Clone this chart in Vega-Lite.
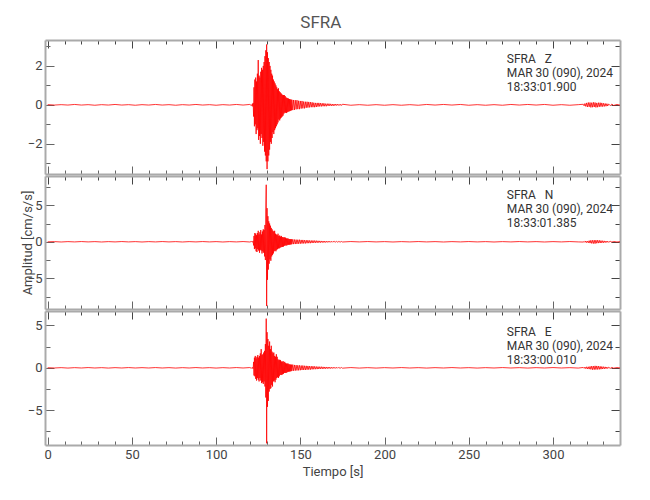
{
  "$schema": "https://vega.github.io/schema/vega-lite/v6.json",
  "padding": {"left": 21, "top": 13, "right": 5, "bottom": 5},
  "background": "white",
  "title": {"text": "SFRA", "fontSize": 17, "fontWeight": "normal", "color": "#555555", "anchor": "middle", "font": "Roboto, sans-serif", "offset": 8},
  "config": {
    "view": {"stroke": null},
    "font": "Roboto, sans-serif",
    "axis": {"domainColor": "#aaaaaa", "domainWidth": 2, "tickColor": "#666666", "tickWidth": 1, "grid": false, "labelColor": "#444444", "labelFontSize": 13, "labelOverlap": false, "labelFont": "Roboto, sans-serif", "titleFont": "Roboto, sans-serif", "titleFontWeight": "normal", "titleColor": "#444444", "titleFontSize": 13},
    "concat": {"spacing": 0}
  },
  "datasets": {
    "labels": [
      {"comp": "Z", "label": "SFRA\u00a0\u00a0\u00a0Z\nMAR 30 (090), 2024\n18:33:01.900"},
      {"comp": "N", "label": "SFRA\u00a0\u00a0\u00a0N\nMAR 30 (090), 2024\n18:33:01.385"},
      {"comp": "E", "label": "SFRA\u00a0\u00a0\u00a0E\nMAR 30 (090), 2024\n18:33:00.010"}
    ],
    "trace": [
      {"t":0,"z":0.01,"n":-0.01,"e":0.01},{"t":4,"z":-0.01,"n":0.02,"e":-0.02},{"t":8,"z":0.01,"n":-0.03,"e":0.02},{"t":12,"z":-0.01,"n":0.02,"e":-0.03},{"t":16,"z":0.02,"n":-0.02,"e":0.02},{"t":20,"z":-0.01,"n":0.03,"e":-0.02},{"t":24,"z":0.01,"n":-0.02,"e":0.03},{"t":28,"z":-0.02,"n":0.02,"e":-0.02},{"t":32,"z":0.01,"n":-0.03,"e":0.02},{"t":36,"z":-0.01,"n":0.02,"e":-0.03},{"t":40,"z":0.02,"n":-0.02,"e":0.02},{"t":44,"z":-0.01,"n":0.03,"e":-0.02},{"t":48,"z":0.01,"n":-0.02,"e":0.03},{"t":52,"z":-0.02,"n":0.02,"e":-0.02},{"t":56,"z":0.01,"n":-0.03,"e":0.02},{"t":60,"z":-0.01,"n":0.02,"e":-0.02},{"t":64,"z":0.02,"n":-0.02,"e":0.03},{"t":68,"z":-0.01,"n":0.03,"e":-0.02},{"t":72,"z":0.01,"n":-0.02,"e":0.02},{"t":76,"z":-0.02,"n":0.02,"e":-0.03},{"t":80,"z":0.01,"n":-0.03,"e":0.02},{"t":84,"z":-0.01,"n":0.02,"e":-0.02},{"t":88,"z":0.02,"n":-0.02,"e":0.03},{"t":92,"z":-0.01,"n":0.03,"e":-0.02},{"t":96,"z":0.01,"n":-0.02,"e":0.02},{"t":100,"z":-0.02,"n":0.02,"e":-0.03},{"t":104,"z":0.01,"n":-0.03,"e":0.02},{"t":108,"z":-0.01,"n":0.02,"e":-0.02},{"t":112,"z":0.02,"n":-0.02,"e":0.03},{"t":116,"z":-0.01,"n":0.03,"e":-0.02},{"t":120,"z":0.02,"n":-0.03,"e":0.03},{"t":121,"z":-0.04,"n":0.04,"e":-0.05},{"t":121.5,"z":0.05,"n":-0.06,"e":0.06},{"t":121.75,"z":-0.08,"n":0.07,"e":-0.08},
      {"t":122,"z":0.1,"n":0.1,"e":-0.1},{"t":122.25,"z":-0.6,"n":-0.5,"e":0.7},{"t":122.5,"z":0.9,"n":0.8,"e":-0.9},{"t":122.75,"z":-1.1,"n":-1.0,"e":1.2},{"t":123,"z":1.3,"n":1.2,"e":-1.0},{"t":123.25,"z":-1.0,"n":-0.9,"e":1.4},{"t":123.5,"z":1.4,"n":1.1,"e":-1.3},{"t":123.75,"z":-1.5,"n":-1.3,"e":1.1},{"t":124,"z":1.2,"n":0.9,"e":-1.5},{"t":124.25,"z":-1.3,"n":-1.4,"e":1.3},{"t":124.5,"z":1.6,"n":1.2,"e":-1.2},{"t":124.75,"z":-1.2,"n":-1.0,"e":1.5},{"t":125,"z":2.3,"n":1.5,"e":-1.4},{"t":125.25,"z":-1.8,"n":-1.2,"e":1.2},{"t":125.5,"z":1.5,"n":1.0,"e":-1.6},{"t":125.75,"z":-1.6,"n":-1.5,"e":1.4},{"t":126,"z":1.4,"n":1.3,"e":-1.2},{"t":126.25,"z":-2.0,"n":-1.1,"e":1.7},{"t":126.5,"z":1.7,"n":1.6,"e":-1.5},{"t":126.75,"z":-1.5,"n":-1.2,"e":2.2},{"t":127,"z":1.9,"n":1.0,"e":-1.8},{"t":127.25,"z":-1.7,"n":-1.6,"e":1.5},{"t":127.5,"z":1.8,"n":1.4,"e":-1.7},{"t":127.75,"z":-2.1,"n":-1.3,"e":1.6},{"t":128,"z":2.0,"n":1.7,"e":-1.9},{"t":128.25,"z":-1.9,"n":-1.5,"e":1.8},{"t":128.5,"z":2.2,"n":1.6,"e":-1.6},{"t":128.75,"z":-2.4,"n":-2.0,"e":2.0},{"t":129,"z":2.5,"n":2.3,"e":-2.2},{"t":129.25,"z":-2.6,"n":-2.5,"e":2.8},{"t":129.5,"z":2.8,"n":4.5,"e":-3.5},{"t":129.75,"z":-2.9,"n":7.8,"e":5.8},{"t":130,"z":3.1,"n":-8.8,"e":-8.9},{"t":130.25,"z":-3.3,"n":4.6,"e":4.2},{"t":130.5,"z":2.7,"n":-5.2,"e":-4.6},{"t":130.75,"z":-2.9,"n":3.5,"e":3.4},{"t":131,"z":2.4,"n":-3.8,"e":-3.9},{"t":131.25,"z":-2.6,"n":2.8,"e":2.6},{"t":131.5,"z":2.2,"n":-3.0,"e":-2.8},{"t":131.75,"z":-2.3,"n":2.5,"e":3.1},{"t":132,"z":2.0,"n":-2.4,"e":-2.5},{"t":132.25,"z":-1.9,"n":2.2,"e":2.2},{"t":132.5,"z":1.8,"n":-2.6,"e":-2.4},{"t":132.75,"z":-2.0,"n":1.9,"e":2.6},{"t":133,"z":1.6,"n":-2.0,"e":-2.0},{"t":133.25,"z":-1.7,"n":1.7,"e":1.9},{"t":133.5,"z":1.5,"n":-1.8,"e":-2.2},{"t":133.75,"z":-1.4,"n":1.5,"e":1.7},{"t":134,"z":1.3,"n":-1.6,"e":-1.6},{"t":134.25,"z":-1.5,"n":1.4,"e":1.8},{"t":134.5,"z":1.2,"n":-1.3,"e":-1.5},{"t":134.75,"z":-1.3,"n":1.5,"e":1.4},{"t":135,"z":1.1,"n":-1.2,"e":-1.7},{"t":135.25,"z":-1.2,"n":1.1,"e":1.3},{"t":135.5,"z":1.0,"n":-1.3,"e":-1.4},{"t":135.75,"z":-1.1,"n":1.0,"e":1.6},{"t":136,"z":0.9,"n":-1.1,"e":-1.2},{"t":136.25,"z":-1.0,"n":0.9,"e":1.3},{"t":136.5,"z":0.8,"n":-1.0,"e":-1.1},{"t":136.75,"z":-0.9,"n":1.1,"e":1.0},{"t":137,"z":0.85,"n":-0.9,"e":-1.2},{"t":137.25,"z":-0.75,"n":0.8,"e":0.9},{"t":137.5,"z":0.7,"n":-0.9,"e":-1.0},{"t":137.75,"z":-0.8,"n":0.85,"e":0.95},{"t":138,"z":0.65,"n":-0.8,"e":-0.85},{"t":138.25,"z":-0.7,"n":0.7,"e":0.9},{"t":138.5,"z":0.6,"n":-0.75,"e":-0.8},{"t":138.75,"z":-0.65,"n":0.8,"e":0.75},{"t":139,"z":0.55,"n":-0.7,"e":-0.85},{"t":139.25,"z":-0.6,"n":0.65,"e":0.7},{"t":139.5,"z":0.5,"n":-0.7,"e":-0.75},{"t":139.75,"z":-0.55,"n":0.6,"e":0.8},{"t":140,"z":0.5,"n":-0.65,"e":-0.7},{"t":140.25,"z":-0.45,"n":0.6,"e":0.65},{"t":140.5,"z":0.5,"n":-0.55,"e":-0.6},{"t":140.75,"z":-0.4,"n":0.6,"e":0.7},{"t":141,"z":0.45,"n":-0.5,"e":-0.6},{"t":141.25,"z":-0.4,"n":0.55,"e":0.55},{"t":141.5,"z":0.38,"n":-0.5,"e":-0.6},{"t":141.75,"z":-0.42,"n":0.45,"e":0.5},{"t":142,"z":0.36,"n":-0.5,"e":-0.55},{"t":142.25,"z":-0.38,"n":0.45,"e":0.5},{"t":142.5,"z":0.34,"n":-0.42,"e":-0.48},{"t":142.75,"z":-0.35,"n":0.44,"e":0.5},{"t":143,"z":0.32,"n":-0.4,"e":-0.45},{"t":143.25,"z":-0.34,"n":0.38,"e":0.42},{"t":143.5,"z":0.3,"n":-0.4,"e":-0.44},{"t":143.75,"z":-0.32,"n":0.36,"e":0.4},{"t":144,"z":0.28,"n":-0.38,"e":-0.42},{"t":144.25,"z":-0.3,"n":0.35,"e":0.38},{"t":144.5,"z":0.27,"n":-0.36,"e":-0.4},{"t":144.75,"z":-0.28,"n":0.34,"e":0.37},{"t":145,"z":0.26,"n":-0.33,"e":-0.36},
      {"t":145.5,"z":-0.27,"n":0.34,"e":0.38},{"t":146,"z":0.25,"n":-0.32,"e":-0.35},{"t":146.5,"z":-0.26,"n":0.3,"e":0.34},{"t":147,"z":0.24,"n":-0.31,"e":-0.33},{"t":147.5,"z":-0.23,"n":0.29,"e":0.32},{"t":148,"z":0.24,"n":-0.3,"e":-0.31},{"t":148.5,"z":-0.22,"n":0.28,"e":0.3},{"t":149,"z":0.21,"n":-0.27,"e":-0.3},{"t":149.5,"z":-0.22,"n":0.28,"e":0.29},{"t":150,"z":0.2,"n":-0.26,"e":-0.28},{"t":150.5,"z":-0.19,"n":0.25,"e":0.27},{"t":151,"z":0.2,"n":-0.24,"e":-0.26},{"t":151.5,"z":-0.18,"n":0.25,"e":0.27},{"t":152,"z":0.17,"n":-0.23,"e":-0.25},{"t":152.5,"z":-0.18,"n":0.22,"e":0.24},{"t":153,"z":0.16,"n":-0.23,"e":-0.25},{"t":153.5,"z":-0.15,"n":0.21,"e":0.23},{"t":154,"z":0.16,"n":-0.2,"e":-0.22},{"t":154.5,"z":-0.14,"n":0.21,"e":0.22},{"t":155,"z":0.15,"n":-0.19,"e":-0.21},{"t":155.5,"z":-0.13,"n":0.18,"e":0.2},{"t":156,"z":0.14,"n":-0.19,"e":-0.21},{"t":156.5,"z":-0.12,"n":0.17,"e":0.19},{"t":157,"z":0.13,"n":-0.16,"e":-0.18},{"t":157.5,"z":-0.12,"n":0.17,"e":0.19},{"t":158,"z":0.11,"n":-0.15,"e":-0.17},{"t":158.5,"z":-0.12,"n":0.16,"e":0.17},{"t":159,"z":0.1,"n":-0.14,"e":-0.16},{"t":159.5,"z":-0.11,"n":0.15,"e":0.15},{"t":160,"z":0.1,"n":-0.13,"e":-0.15},{"t":160.5,"z":-0.09,"n":0.13,"e":0.14},{"t":161,"z":0.1,"n":-0.12,"e":-0.14},{"t":161.5,"z":-0.08,"n":0.12,"e":0.13},{"t":162,"z":0.09,"n":-0.11,"e":-0.12},{"t":162.5,"z":-0.08,"n":0.11,"e":0.13},{"t":163,"z":0.08,"n":-0.1,"e":-0.12},{"t":163.5,"z":-0.07,"n":0.1,"e":0.11},{"t":164,"z":0.08,"n":-0.1,"e":-0.11},{"t":164.5,"z":-0.07,"n":0.09,"e":0.1},{"t":165,"z":0.06,"n":-0.09,"e":-0.1},{"t":165.5,"z":-0.07,"n":0.08,"e":0.1},{"t":166,"z":0.06,"n":-0.08,"e":-0.09},{"t":166.5,"z":-0.05,"n":0.08,"e":0.09},{"t":167,"z":0.06,"n":-0.07,"e":-0.08},{"t":167.5,"z":-0.05,"n":0.07,"e":0.08},{"t":168,"z":0.05,"n":-0.07,"e":-0.08},{"t":168.5,"z":-0.05,"n":0.06,"e":0.07},{"t":169,"z":0.04,"n":-0.06,"e":-0.07},{"t":169.5,"z":-0.05,"n":0.06,"e":0.07},{"t":170,"z":0.04,"n":-0.05,"e":-0.06},{"t":170.5,"z":-0.04,"n":0.06,"e":0.06},{"t":171,"z":0.04,"n":-0.05,"e":-0.06},{"t":171.5,"z":-0.03,"n":0.05,"e":0.05},{"t":172,"z":0.04,"n":-0.05,"e":-0.05},{"t":172.5,"z":-0.03,"n":0.04,"e":0.05},{"t":173,"z":0.03,"n":-0.04,"e":-0.05},{"t":173.5,"z":-0.03,"n":0.04,"e":0.04},{"t":174,"z":0.03,"n":-0.04,"e":-0.04},{"t":174.5,"z":-0.03,"n":0.04,"e":0.04},{"t":175,"z":0.03,"n":-0.03,"e":-0.04},
      {"t":180,"z":-0.02,"n":0.03,"e":0.03},{"t":185,"z":0.01,"n":-0.02,"e":-0.03},{"t":190,"z":-0.02,"n":0.03,"e":0.02},{"t":195,"z":0.01,"n":-0.02,"e":-0.03},{"t":200,"z":-0.02,"n":0.02,"e":0.02},{"t":205,"z":0.01,"n":-0.03,"e":-0.02},{"t":210,"z":-0.02,"n":0.02,"e":0.03},{"t":215,"z":0.01,"n":-0.02,"e":-0.02},{"t":220,"z":-0.02,"n":0.03,"e":0.02},{"t":225,"z":0.02,"n":-0.02,"e":-0.03},{"t":230,"z":-0.01,"n":0.02,"e":0.02},{"t":235,"z":0.02,"n":-0.03,"e":-0.02},{"t":240,"z":-0.01,"n":0.02,"e":0.03},{"t":245,"z":0.02,"n":-0.02,"e":-0.02},{"t":250,"z":-0.02,"n":0.03,"e":0.02},{"t":255,"z":0.01,"n":-0.02,"e":-0.03},{"t":260,"z":-0.02,"n":0.02,"e":0.02},{"t":265,"z":0.01,"n":-0.03,"e":-0.02},{"t":270,"z":-0.02,"n":0.02,"e":0.03},{"t":275,"z":0.02,"n":-0.02,"e":-0.02},{"t":280,"z":-0.01,"n":0.03,"e":0.02},{"t":285,"z":0.02,"n":-0.02,"e":-0.03},{"t":290,"z":-0.01,"n":0.02,"e":0.02},{"t":295,"z":0.02,"n":-0.03,"e":-0.02},{"t":300,"z":-0.02,"n":0.02,"e":0.03},{"t":305,"z":0.01,"n":-0.02,"e":-0.02},{"t":310,"z":-0.02,"n":0.03,"e":0.02},{"t":315,"z":0.01,"n":-0.02,"e":-0.03},
      {"t":318,"z":0.03,"n":-0.04,"e":0.04},{"t":318.5,"z":-0.05,"n":0.06,"e":-0.06},{"t":319,"z":0.07,"n":-0.08,"e":0.09},{"t":319.5,"z":-0.08,"n":0.1,"e":-0.1},{"t":320,"z":0.1,"n":-0.12,"e":0.12},{"t":320.5,"z":-0.11,"n":0.1,"e":-0.14},{"t":321,"z":0.12,"n":-0.14,"e":0.12},{"t":321.5,"z":-0.1,"n":0.15,"e":-0.15},{"t":322,"z":0.12,"n":-0.18,"e":0.16},{"t":322.5,"z":-0.13,"n":0.2,"e":-0.18},{"t":323,"z":0.11,"n":-0.22,"e":0.2},{"t":323.5,"z":-0.12,"n":0.2,"e":-0.22},{"t":324,"z":0.13,"n":-0.24,"e":0.2},{"t":324.5,"z":-0.11,"n":0.22,"e":-0.21},{"t":325,"z":0.12,"n":-0.25,"e":0.23},{"t":325.5,"z":-0.13,"n":0.22,"e":-0.2},{"t":326,"z":0.1,"n":-0.2,"e":0.22},{"t":326.5,"z":-0.12,"n":0.21,"e":-0.19},{"t":327,"z":0.11,"n":-0.18,"e":0.2},{"t":327.5,"z":-0.1,"n":0.2,"e":-0.18},{"t":328,"z":0.11,"n":-0.17,"e":0.17},{"t":328.5,"z":-0.09,"n":0.16,"e":-0.16},{"t":329,"z":0.1,"n":-0.15,"e":0.15},{"t":329.5,"z":-0.09,"n":0.14,"e":-0.14},{"t":330,"z":0.08,"n":-0.13,"e":0.13},{"t":330.5,"z":-0.08,"n":0.12,"e":-0.12},{"t":331,"z":0.07,"n":-0.11,"e":0.11},{"t":331.5,"z":-0.07,"n":0.1,"e":-0.1},{"t":332,"z":0.06,"n":-0.09,"e":0.09},{"t":332.5,"z":-0.06,"n":0.08,"e":-0.08},{"t":333,"z":0.05,"n":-0.07,"e":0.07},{"t":334,"z":-0.04,"n":0.06,"e":-0.06},{"t":335,"z":0.04,"n":-0.05,"e":0.05},{"t":336,"z":-0.03,"n":0.04,"e":-0.04},{"t":338,"z":0.02,"n":-0.03,"e":0.03},{"t":340,"z":-0.02,"n":0.02,"e":-0.02}
    ]
  },
  "vconcat": [
    {
      "width": 575, "height": 134,
      "resolve": {"axis": {"x": "independent", "y": "independent"}},
      "layer": [
        {
          "data": {"name": "trace"},
          "mark": {"type": "line", "color": "#ff0000", "strokeWidth": 0.8, "clip": true},
          "encoding": {
            "x": {"field": "t", "type": "quantitative", "scale": {"domain": [-1.6, 339.8], "nice": false, "zero": false},
                  "axis": {"orient": "bottom", "title": null, "labels": false, "values": [0,10,20,30,40,50,60,70,80,90,100,110,120,130,140,150,160,170,180,190,200,210,220,230,240,250,260,270,280,290,300,310,320,330,340], "tickSize": {"condition": {"test": "datum.value % 50 === 0", "value": -8}, "value": -4}}},
            "y": {"field": "z", "type": "quantitative", "scale": {"domain": [-3.55, 3.33], "nice": false, "zero": false},
                  "axis": {"orient": "left", "title": null, "values": [-3,-2,-1,0,1,2,3], "labelExpr": "datum.value % 2 === 0 ? datum.label : ''", "labelPadding": 12, "tickSize": {"condition": {"test": "datum.value % 2 === 0", "value": -9}, "value": -5}}}
          }
        },
        {
          "data": {"name": "trace"},
          "mark": {"type": "line", "opacity": 0},
          "encoding": {
            "x": {"field": "t", "type": "quantitative", "axis": {"orient": "top", "title": null, "labels": false, "values": [0,10,20,30,40,50,60,70,80,90,100,110,120,130,140,150,160,170,180,190,200,210,220,230,240,250,260,270,280,290,300,310,320,330,340], "tickColor": "#444444", "tickSize": {"condition": {"test": "datum.value % 50 === 0", "value": -8}, "value": -4}}},
            "y": {"field": "z", "type": "quantitative", "axis": {"orient": "right", "title": null, "labels": false, "values": [-3,-2,-1,0,1,2,3], "tickColor": "#444444", "tickSize": {"condition": {"test": "datum.value % 2 === 0", "value": -9}, "value": -5}}}
          }
        },
        {
          "data": {"name": "labels"},
          "transform": [{"filter": "datum.comp === 'Z'"}],
          "mark": {"type": "text", "align": "left", "baseline": "top", "lineBreak": "\n", "fontSize": 12, "lineHeight": 14, "color": "#333333"},
          "encoding": {
            "x": {"datum": 272.6, "type": "quantitative", "axis": null},
            "y": {"datum": 2.61, "type": "quantitative", "axis": null},
            "text": {"field": "label"}
          }
        }
      ]
    },
    {
      "width": 575, "height": 133,
      "resolve": {"axis": {"x": "independent", "y": "independent"}},
      "layer": [
        {
          "data": {"name": "trace"},
          "mark": {"type": "line", "color": "#ff0000", "strokeWidth": 0.8, "clip": true},
          "encoding": {
            "x": {"field": "t", "type": "quantitative", "scale": {"domain": [-1.6, 339.8], "nice": false, "zero": false},
                  "axis": {"orient": "bottom", "title": null, "labels": false, "values": [0,10,20,30,40,50,60,70,80,90,100,110,120,130,140,150,160,170,180,190,200,210,220,230,240,250,260,270,280,290,300,310,320,330,340], "tickSize": {"condition": {"test": "datum.value % 50 === 0", "value": -8}, "value": -4}}},
            "y": {"field": "n", "type": "quantitative", "scale": {"domain": [-9.2, 9.0], "nice": false, "zero": false},
                  "axis": {"orient": "left", "title": "Amplitud [cm/s/s]", "titlePadding": -7, "values": [-7.5,-5,-2.5,0,2.5,5,7.5], "labelExpr": "datum.value % 5 === 0 ? datum.label : ''", "labelPadding": 12, "tickSize": {"condition": {"test": "datum.value % 5 === 0", "value": -9}, "value": -5}}}
          }
        },
        {
          "data": {"name": "trace"},
          "mark": {"type": "line", "opacity": 0},
          "encoding": {
            "x": {"field": "t", "type": "quantitative", "axis": {"orient": "top", "title": null, "labels": false, "values": [0,10,20,30,40,50,60,70,80,90,100,110,120,130,140,150,160,170,180,190,200,210,220,230,240,250,260,270,280,290,300,310,320,330,340], "tickColor": "#444444", "tickSize": {"condition": {"test": "datum.value % 50 === 0", "value": -8}, "value": -4}}},
            "y": {"field": "n", "type": "quantitative", "axis": {"orient": "right", "title": null, "labels": false, "values": [-7.5,-5,-2.5,0,2.5,5,7.5], "tickColor": "#444444", "tickSize": {"condition": {"test": "datum.value % 5 === 0", "value": -9}, "value": -5}}}
          }
        },
        {
          "data": {"name": "labels"},
          "transform": [{"filter": "datum.comp === 'N'"}],
          "mark": {"type": "text", "align": "left", "baseline": "top", "lineBreak": "\n", "fontSize": 12, "lineHeight": 14, "color": "#333333"},
          "encoding": {
            "x": {"datum": 272.6, "type": "quantitative", "axis": null},
            "y": {"datum": 7.1, "type": "quantitative", "axis": null},
            "text": {"field": "label"}
          }
        }
      ]
    },
    {
      "width": 575, "height": 134,
      "resolve": {"axis": {"x": "independent", "y": "independent"}},
      "layer": [
        {
          "data": {"name": "trace"},
          "mark": {"type": "line", "color": "#ff0000", "strokeWidth": 0.8, "clip": true},
          "encoding": {
            "x": {"field": "t", "type": "quantitative", "scale": {"domain": [-1.6, 339.8], "nice": false, "zero": false},
                  "axis": {"orient": "bottom", "title": "Tiempo [s]", "titlePadding": 0, "values": [0,10,20,30,40,50,60,70,80,90,100,110,120,130,140,150,160,170,180,190,200,210,220,230,240,250,260,270,280,290,300,310,320,330,340], "labelExpr": "datum.value % 50 === 0 ? datum.label : ''", "labelPadding": 11, "tickSize": {"condition": {"test": "datum.value % 50 === 0", "value": -8}, "value": -4}}},
            "y": {"field": "e", "type": "quantitative", "scale": {"domain": [-9.1, 6.7], "nice": false, "zero": false},
                  "axis": {"orient": "left", "title": null, "values": [-7.5,-5,-2.5,0,2.5,5], "labelExpr": "datum.value % 5 === 0 ? datum.label : ''", "labelPadding": 12, "tickSize": {"condition": {"test": "datum.value % 5 === 0", "value": -9}, "value": -5}}}
          }
        },
        {
          "data": {"name": "trace"},
          "mark": {"type": "line", "opacity": 0},
          "encoding": {
            "x": {"field": "t", "type": "quantitative", "axis": {"orient": "top", "title": null, "labels": false, "values": [0,10,20,30,40,50,60,70,80,90,100,110,120,130,140,150,160,170,180,190,200,210,220,230,240,250,260,270,280,290,300,310,320,330,340], "tickColor": "#444444", "tickSize": {"condition": {"test": "datum.value % 50 === 0", "value": -8}, "value": -4}}},
            "y": {"field": "e", "type": "quantitative", "axis": {"orient": "right", "title": null, "labels": false, "values": [-7.5,-5,-2.5,0,2.5,5], "tickColor": "#444444", "tickSize": {"condition": {"test": "datum.value % 5 === 0", "value": -9}, "value": -5}}}
          }
        },
        {
          "data": {"name": "labels"},
          "transform": [{"filter": "datum.comp === 'E'"}],
          "mark": {"type": "text", "align": "left", "baseline": "top", "lineBreak": "\n", "fontSize": 12, "lineHeight": 14, "color": "#333333"},
          "encoding": {
            "x": {"datum": 272.6, "type": "quantitative", "axis": null},
            "y": {"datum": 4.83, "type": "quantitative", "axis": null},
            "text": {"field": "label"}
          }
        }
      ]
    }
  ]
}
